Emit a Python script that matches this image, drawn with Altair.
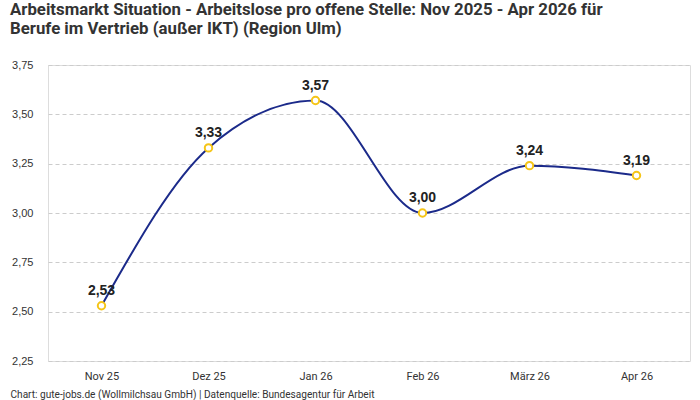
import altair as alt
import pandas as pd

months = ["Nov 25", "Dez 25", "Jan 26", "Feb 26", "März 26", "Apr 26"]
values = [2.53, 3.33, 3.57, 3.00, 3.24, 3.19]

df = pd.DataFrame({"Monat": months, "Wert": values})

COND = "Roboto, 'Liberation Sans', sans-serif"
REG = "'Liberation Sans', Arial, sans-serif"

base = alt.Chart(df).encode(
    x=alt.X(
        "Monat:N",
        sort=months,
        scale=alt.Scale(type="point", padding=0.5),
        axis=alt.Axis(
            title="Chart: gute-jobs.de (Wollmilchsau GmbH) | Datenquelle: Bundesagentur für Arbeit",
            titleFont=COND,
            titleFontSize=10.1,
            titleFontWeight="normal",
            titleColor="#333333",
            titleAnchor="start",
            titleAlign="left",
            titleBaseline="alphabetic",
            titleX=-38,
            titleY=36,
            labelAngle=0,
            labelFont=COND,
            labelFontSize=11,
            labelColor="#333333",
            labelPadding=9,
            ticks=False,
            domain=False,
            grid=False,
        ),
    ),
    y=alt.Y(
        "Wert:Q",
        scale=alt.Scale(domain=[2.25, 3.75], nice=False, zero=False),
        axis=alt.Axis(
            title=None,
            values=[2.25, 2.5, 2.75, 3.0, 3.25, 3.5, 3.75],
            labelExpr="replace(format(datum.value, '.2f'), '.', ',')",
            labelFont=REG,
            labelFontSize=11,
            labelColor="#333333",
            labelPadding=15,
            ticks=False,
            domain=False,
            grid=True,
            gridColor="#cccccc",
            gridDash=[4, 3],
            gridWidth=1,
        ),
    ),
)

line = base.mark_line(color="#1b2a8a", strokeWidth=2, interpolate="monotone")
points = base.mark_point(
    filled=True, fill="white", stroke="#f5c518", strokeWidth=2, size=55, opacity=1
)
labels = base.transform_calculate(
    lbl="replace(format(datum.Wert, '.2f'), '.', ',')"
).mark_text(
    font=REG, fontSize=14, fontWeight="bold", color="#222222", dy=-15, baseline="middle"
).encode(text="lbl:N")

chart = (
    alt.layer(line, points, labels)
    .properties(
        width=642,
        height=296,
        padding={"left": 48, "top": 65, "right": 10, "bottom": 39},
        autosize=alt.AutoSizeParams(type="none"),
        title=alt.TitleParams(
            text=[
                "Arbeitsmarkt Situation - Arbeitslose pro offene Stelle: Nov 2025 - Apr 2026 für",
                "Berufe im Vertrieb (außer IKT) (Region Ulm)",
            ],
            font=COND,
            fontSize=16.8,
            fontWeight="bold",
            color="#333333",
            anchor="start",
            frame="group",
            dx=-38,
            offset=21,
            lineHeight=19,
        ),
    )
    .configure_view(stroke=None)
    .configure(background="white")
)

chart.save("out.html", embed_options={"renderer": "svg", "actions": False})
